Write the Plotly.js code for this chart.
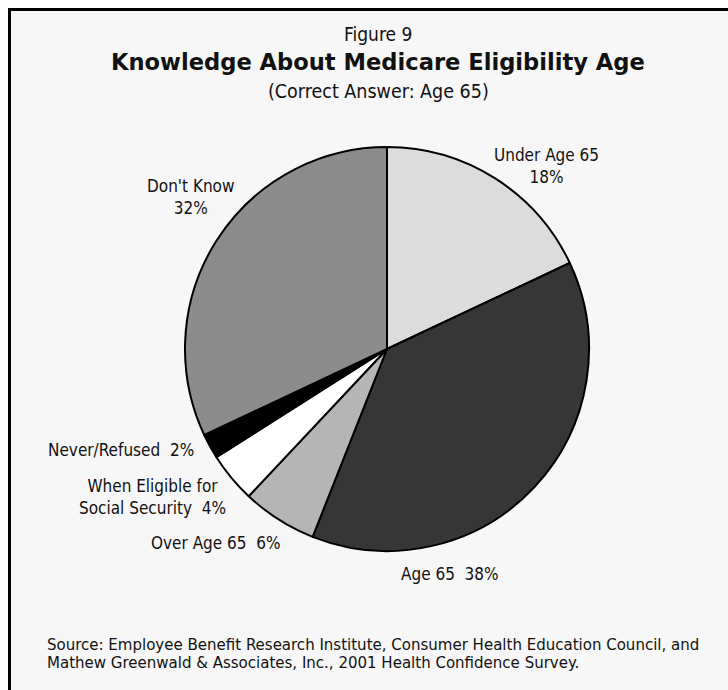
<!DOCTYPE html>
<html>
<head>
<meta charset="utf-8">
<script src="https://cdn.plot.ly/plotly-3.0.1.min.js"></script>
<style>html,body{margin:0;padding:0;background:#fff;}#chart{width:728px;height:690px;}</style>
</head>
<body>
<div id="chart"></div>
<script>
const categories = ["Under Age 65", "Age 65", "Over Age 65", "When Eligible for<br>Social Security", "Never/Refused", "Don't Know"];
const values = [18, 38, 6, 4, 2, 32];
const sliceColors = ["#dcdcdc", "#363636", "#b5b5b5", "#ffffff", "#000000", "#8c8c8c"];
const labelText = ["Under Age 65<br>18%", "Age 65  38%", "Over Age 65  6%", "When Eligible for<br>Social Security  4%", "Never/Refused  2%", "Don't Know<br>32%"];
const sourceLines = ["Source: Employee Benefit Research Institute, Consumer Health Education Council, and",
                     "Mathew Greenwald &amp; Associates, Inc., 2001 Health Confidence Survey."];

const FONT = "'DejaVu Sans Condensed', 'Liberation Sans Narrow', Arial, sans-serif";
const W = 728, H = 690;
function px(x){return x / W;}
function py(y){return 1 - y / H;}

const labelPos = [
  {x: 546, y: 166, xanchor: "center", align: "center"},
  {x: 450, y: 574, xanchor: "center", align: "center"},
  {x: 283, y: 543, xanchor: "right", align: "right"},
  {x: 152, y: 497, xanchor: "center", align: "center"},
  {x: 196, y: 450, xanchor: "right", align: "right"},
  {x: 190, y: 197, xanchor: "center", align: "center"}
];

const annotations = labelText.map((t, i) => ({
  text: t, xref: "paper", yref: "paper",
  x: px(labelPos[i].x), y: py(labelPos[i].y),
  xanchor: labelPos[i].xanchor, yanchor: "middle", align: labelPos[i].align,
  showarrow: false, font: {family: FONT, size: 17, color: "#111"}
}));

annotations.push(
  {text: "Figure 9", xref: "paper", yref: "paper", x: px(378), y: py(34), xanchor: "center", yanchor: "middle", showarrow: false, font: {family: FONT, size: 19, color: "#111"}},
  {text: "<b>Knowledge About Medicare Eligibility Age</b>", xref: "paper", yref: "paper", x: px(378), y: py(62), xanchor: "center", yanchor: "middle", showarrow: false, font: {family: "'DejaVu Sans', Verdana, sans-serif", size: 22.6, color: "#111"}},
  {text: "(Correct Answer: Age 65)", xref: "paper", yref: "paper", x: px(378), y: py(91), xanchor: "center", yanchor: "middle", showarrow: false, font: {family: FONT, size: 19.5, color: "#111"}}
);
sourceLines.forEach((t, i) => annotations.push({
  text: t, xref: "paper", yref: "paper", x: px(45), y: py(644 + i * 18), xanchor: "left", yanchor: "middle", align: "left",
  showarrow: false, font: {family: FONT, size: 16.7, color: "#111"}
}));

const cx = 387, cy = 349, r = 202;

const data = [{
  type: "pie",
  labels: categories,
  values: values,
  sort: false,
  direction: "clockwise",
  rotation: 0,
  textinfo: "none",
  hoverinfo: "label+percent",
  marker: {colors: sliceColors, line: {color: "#000", width: 2}},
  domain: {x: [px(cx - r), px(cx + r)], y: [1 - (cy + r) / H, 1 - (cy - r) / H]},
  showlegend: false
}];

const layout = {
  width: W, height: H,
  margin: {l: 0, r: 0, t: 0, b: 0},
  paper_bgcolor: "#ffffff",
  showlegend: false,
  shapes: [{
    type: "rect", xref: "paper", yref: "paper", layer: "below",
    x0: px(9.5), x1: 1.05, y0: -0.05, y1: py(9.5),
    line: {color: "#000", width: 3}, fillcolor: "#f7f7f7"
  }],
  annotations: annotations
};

Plotly.newPlot("chart", data, layout, {displayModeBar: false, staticPlot: true});
</script>
</body>
</html>
